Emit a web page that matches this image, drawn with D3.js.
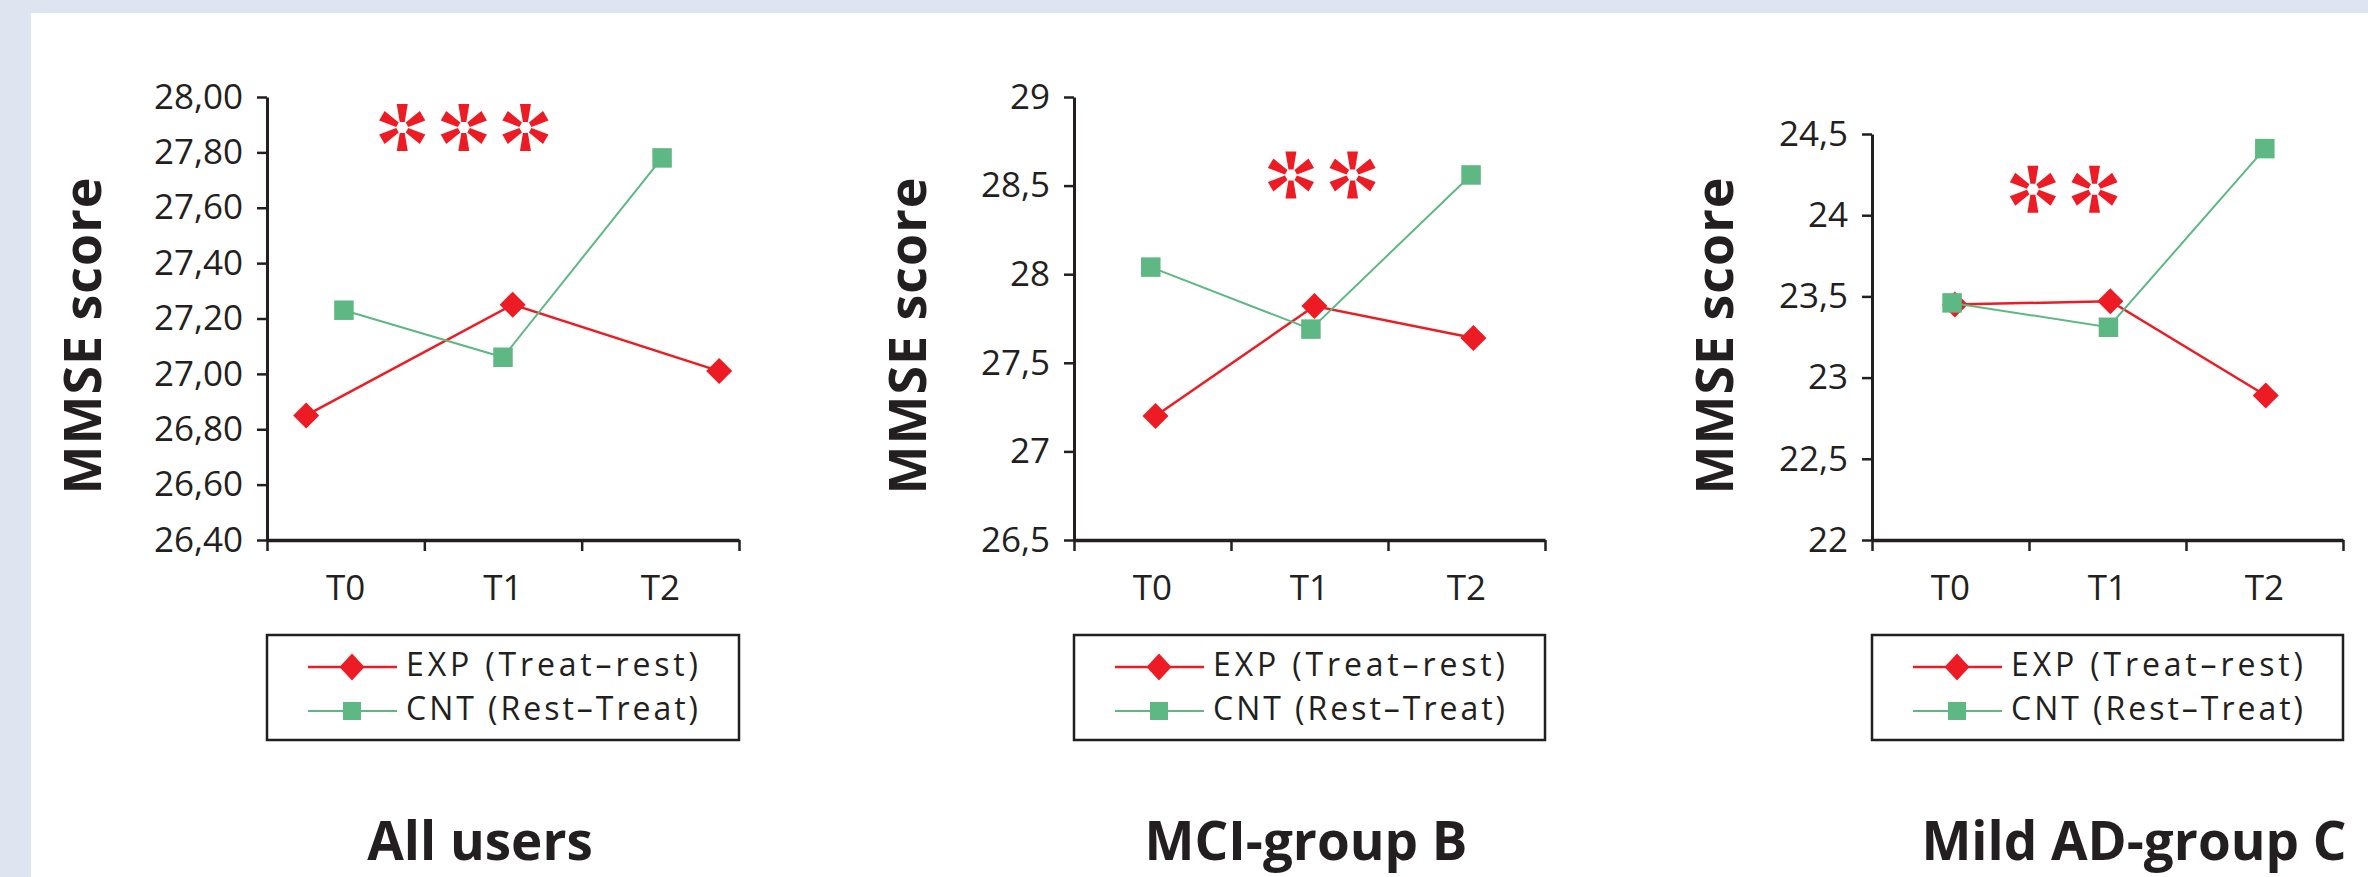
<!DOCTYPE html>
<html>
<head>
<meta charset="utf-8">
<script src="https://cdn.jsdelivr.net/npm/d3@7"></script>
<style>
  body { margin: 0; background: #fff; }
  svg { display: block; }
</style>
</head>
<body>
<div id="chart"></div>
<script>
// Data
const categories = ["T0", "T1", "T2"];
const panelTitles = ["All users", "MCI-group B", "Mild AD-group C"];
const seriesNames = ["EXP (Treat–rest)", "CNT (Rest–Treat)"];
const expScores = [
    [26.85, 27.25, 27.01],
    [27.20, 27.82, 27.64],
    [23.45, 23.47, 22.89]
];
const cntScores = [
    [27.23, 27.06, 27.78],
    [28.04, 27.69, 28.56],
    [23.46, 23.31, 24.41]
];
const yDomains = [[26.4, 28], [26.5, 29], [22, 24.5]];
const yTickValues = [
    [26.4, 26.6, 26.8, 27.0, 27.2, 27.4, 27.6, 27.8, 28.0],
    [26.5, 27, 27.5, 28, 28.5, 29],
    [22, 22.5, 23, 23.5, 24, 24.5]
];
const yTickFormats = [".2f", ".1~f", ".1~f"];
const significance = ["***", "**", "**"];
const starLevels = [27.89, 28.56, 24.16];
const yLabel = "MMSE score";

// Layout
const width = 2368;
const height = 877;
const ink = "#231f20";
const red = "#ed1c24";
const green = "#5db883";
const frame = "#dfe5f0";

const panels = [
    { x0: 267, x1: 739, yTop: 97, yBottom: 540, labelX: 80, titleX: 480, starAt: 0.417,
      expRange: [0.083, 0.958], cntRange: [0.163, 0.837] },
    { x0: 1074, x1: 1545, yTop: 97, yBottom: 540, labelX: 905, titleX: 1306, starAt: 0.526,
      expRange: [0.173, 0.848], cntRange: [0.163, 0.843] },
    { x0: 1872, x1: 2343, yTop: 134, yBottom: 540, labelX: 1712, titleX: 2134, starAt: 0.407,
      expRange: [0.176, 0.836], cntRange: [0.170, 0.834] }
];

const locale = d3.formatLocale({ decimal: ",", thousands: ".", grouping: [3], currency: ["", ""] });

// Marker shapes
const diamond = (hx, hy) => `M0,${-hy}L${hx},0L0,${hy}L${-hx},0Z`;
const square = s => `M${-s / 2},${-s / 2}h${s}v${s}h${-s}Z`;

// Six spoke asterisk with a hollow centre
function starPath(r1, r2, w1, w2) {
    let d = "";
    for (let a = 0; a < 6; a++) {
        const ang = (a * 60 + 90) * Math.PI / 180;
        const c = Math.cos(ang), s = Math.sin(ang);
        const px = -s, py = c;
        const pts = [
            [r1 * c + w1 / 2 * px, r1 * s + w1 / 2 * py],
            [r2 * c + w2 / 2 * px, r2 * s + w2 / 2 * py],
            [r2 * c - w2 / 2 * px, r2 * s - w2 / 2 * py],
            [r1 * c - w1 / 2 * px, r1 * s - w1 / 2 * py]
        ];
        d += "M" + pts.map(q => q.map(v => v.toFixed(2)).join(",")).join("L") + "Z";
    }
    return d;
}

const svg = d3.select("#chart")
    .append("svg")
    .attr("width", width)
    .attr("height", height);

svg.append("rect").attr("width", width).attr("height", height).attr("fill", "#fff");
svg.append("rect").attr("width", width).attr("height", 13).attr("fill", frame);
svg.append("rect").attr("width", 31).attr("height", height).attr("fill", frame);

panels.forEach((p, i) => {
    const g = svg.append("g");
    const w = p.x1 - p.x0;

    const y = d3.scaleLinear().domain(yDomains[i]).range([p.yBottom, p.yTop]);
    const band = d3.scaleBand().domain(categories).range([p.x0, p.x1]);
    const edges = d3.scaleLinear().domain([0, categories.length]).range([p.x0, p.x1]);

    // y axis
    const yAxis = g.append("g")
        .attr("transform", `translate(${p.x0},0)`)
        .call(d3.axisLeft(y)
            .tickValues(yTickValues[i])
            .tickFormat(locale.format(yTickFormats[i]))
            .tickSize(10)
            .tickSizeOuter(0)
            .tickPadding(14));
    yAxis.select(".domain").attr("stroke", ink).attr("stroke-width", 3);
    yAxis.selectAll(".tick line").attr("stroke", ink).attr("stroke-width", 2.5);
    yAxis.selectAll(".tick text")
        .attr("fill", ink)
        .attr("font-family", "Open Sans")
        .attr("font-size", 35);

    // x axis: ticks sit on the band edges
    const xAxis = g.append("g")
        .attr("transform", `translate(0,${p.yBottom})`)
        .call(d3.axisBottom(edges)
            .tickValues(d3.range(categories.length + 1))
            .tickFormat("")
            .tickSize(11)
            .tickSizeOuter(0));
    xAxis.select(".domain").attr("stroke", ink).attr("stroke-width", 3.5);
    xAxis.selectAll(".tick line").attr("stroke", ink).attr("stroke-width", 2.5);

    g.selectAll(".cat")
        .data(categories)
        .join("text")
        .attr("x", d => band(d) + band.bandwidth() / 2)
        .attr("y", 600)
        .attr("text-anchor", "middle")
        .attr("fill", ink)
        .attr("font-family", "Open Sans")
        .attr("font-size", 35)
        .text(d => d);

    // axis title
    g.append("text")
        .attr("transform", `translate(${p.labelX},336) rotate(-90)`)
        .attr("text-anchor", "middle")
        .attr("dominant-baseline", "central")
        .attr("fill", ink)
        .attr("font-family", "Open Sans")
        .attr("font-weight", 700)
        .attr("font-size", 52)
        .attr("textLength", 317)
        .attr("lengthAdjust", "spacing")
        .text(yLabel);

    const series = [
        { name: seriesNames[0], values: expScores[i], color: red, lw: 2.5, range: p.expRange,
          mark: diamond(13, 13), legendMark: diamond(12.5, 13.5) },
        { name: seriesNames[1], values: cntScores[i], color: green, lw: 2, range: p.cntRange,
          mark: square(19.5), legendMark: square(18) }
    ];

    series.forEach(s => {
        const xs = d3.scalePoint().domain(categories).range(s.range.map(f => p.x0 + f * w));
        const line = d3.line()
            .x((d, j) => xs(categories[j]))
            .y(d => y(d));

        g.append("path")
            .datum(s.values)
            .attr("d", line)
            .attr("fill", "none")
            .attr("stroke", s.color)
            .attr("stroke-width", s.lw);

        g.append("g")
            .selectAll("path")
            .data(s.values)
            .join("path")
            .attr("transform", (d, j) => `translate(${xs(categories[j])},${y(d)})`)
            .attr("d", s.mark)
            .attr("fill", s.color);
    });

    // significance asterisks
    const n = significance[i].length;
    const star = starPath(5.5, 23.5, 5, 11);
    g.append("g")
        .selectAll("path")
        .data(d3.range(n))
        .join("path")
        .attr("transform", k => `translate(${p.x0 + p.starAt * w + (k - (n - 1) / 2) * 61.6},${y(starLevels[i])})`)
        .attr("d", star)
        .attr("fill", red);

    // legend box
    const lg = g.append("g").attr("transform", `translate(${p.x0},635)`);
    lg.append("rect")
        .attr("width", w)
        .attr("height", 105)
        .attr("fill", "none")
        .attr("stroke", ink)
        .attr("stroke-width", 2.5);

    series.forEach((s, k) => {
        const ry = 32 + k * 44;
        lg.append("line")
            .attr("x1", 41).attr("x2", 130)
            .attr("y1", ry).attr("y2", ry)
            .attr("stroke", s.color)
            .attr("stroke-width", s.lw);
        lg.append("path")
            .attr("transform", `translate(85,${ry})`)
            .attr("d", s.legendMark)
            .attr("fill", s.color);
        lg.append("text")
            .attr("x", 139)
            .attr("y", ry + 8.5)
            .attr("fill", ink)
            .attr("font-family", "Open Sans")
            .attr("font-size", 32)
            .attr("textLength", 292)
            .attr("lengthAdjust", "spacing")
            .text(s.name);
    });

    // panel title
    g.append("text")
        .attr("x", p.titleX)
        .attr("y", 860)
        .attr("text-anchor", "middle")
        .attr("fill", ink)
        .attr("font-family", "Open Sans")
        .attr("font-weight", 700)
        .attr("font-size", 53)
        .text(panelTitles[i]);
});
</script>
</body>
</html>
